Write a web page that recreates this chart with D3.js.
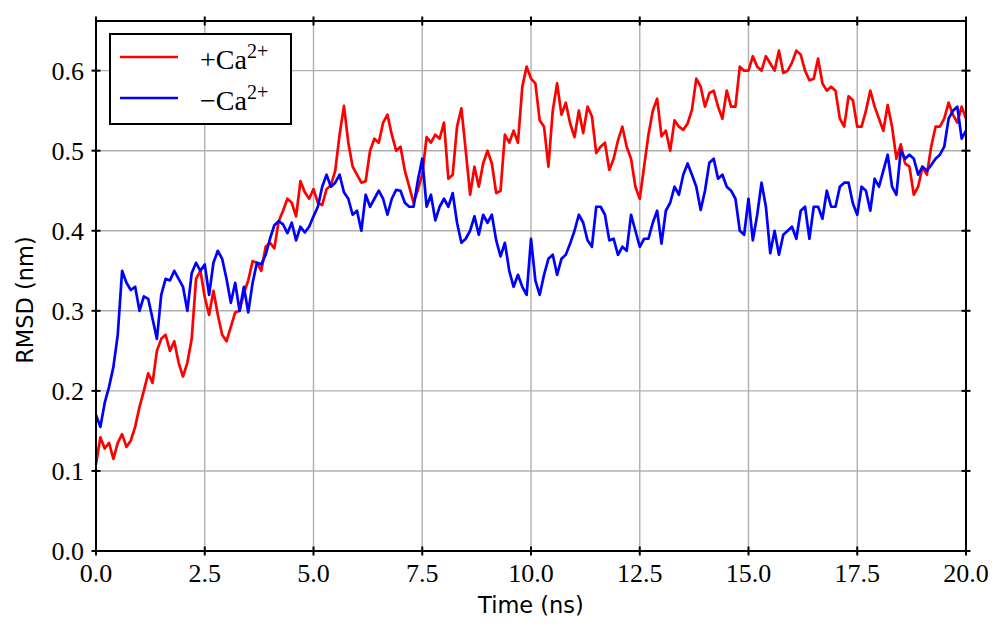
<!DOCTYPE html>
<html>
<head>
<meta charset="utf-8">
<script src="https://cdn.jsdelivr.net/npm/d3@7"></script>
<style>
  body { margin: 0; background: #fff; }
  .grid line { stroke: #b0b0b0; stroke-width: 1.4; }
  .tick-label { font-family: "Liberation Serif", "DejaVu Serif", serif; font-size: 26px; fill: #000; }
  .axis-title { font-family: "DejaVu Sans", sans-serif; font-size: 22.5px; fill: #000; }
  .legend-text { font-family: "Liberation Serif", "DejaVu Serif", serif; font-size: 28px; fill: #000; }
</style>
</head>
<body>
<svg id="chart" width="994" height="624"></svg>
<script>
  const width = 994, height = 624;
  const margin = { top: 21, right: 28, bottom: 73, left: 96 };

  // sampling step of both trajectories (ns)
  const timeStep = 0.1;

  // RMSD (nm) with calcium bound, read every 0.1 ns from 0 to 20 ns
  const rmsdWithCa = [
    0.108, 0.142, 0.128, 0.135, 0.115, 0.135, 0.146, 0.130, 0.138, 0.155,
    0.180, 0.200, 0.222, 0.210, 0.250, 0.265, 0.270, 0.250, 0.262, 0.235,
    0.218, 0.235, 0.265, 0.340, 0.350, 0.317, 0.295, 0.325, 0.295, 0.270,
    0.262, 0.280, 0.298, 0.300, 0.322, 0.338, 0.362, 0.360, 0.350, 0.380,
    0.385, 0.378, 0.412, 0.425, 0.440, 0.435, 0.418, 0.462, 0.448, 0.440,
    0.452, 0.435, 0.432, 0.452, 0.457, 0.475, 0.520, 0.556, 0.510, 0.480,
    0.470, 0.460, 0.462, 0.500, 0.515, 0.510, 0.535, 0.545, 0.520, 0.500,
    0.505, 0.475, 0.455, 0.435, 0.451, 0.470, 0.517, 0.510, 0.520, 0.515,
    0.535, 0.465, 0.470, 0.530, 0.553, 0.500, 0.445, 0.480, 0.455, 0.484,
    0.500, 0.484, 0.447, 0.450, 0.520, 0.510, 0.525, 0.510, 0.580, 0.605,
    0.590, 0.584, 0.538, 0.530, 0.480, 0.550, 0.584, 0.545, 0.560, 0.534,
    0.517, 0.550, 0.522, 0.555, 0.543, 0.497, 0.505, 0.510, 0.476, 0.490,
    0.513, 0.530, 0.505, 0.490, 0.455, 0.440, 0.480, 0.520, 0.550, 0.565,
    0.518, 0.525, 0.500, 0.538, 0.530, 0.526, 0.534, 0.551, 0.590, 0.580,
    0.555, 0.572, 0.575, 0.555, 0.540, 0.575, 0.555, 0.555, 0.605, 0.600,
    0.600, 0.618, 0.605, 0.600, 0.618, 0.609, 0.600, 0.625, 0.597, 0.600,
    0.610, 0.625, 0.620, 0.600, 0.588, 0.590, 0.615, 0.584, 0.575, 0.580,
    0.575, 0.540, 0.530, 0.568, 0.563, 0.530, 0.530, 0.550, 0.575, 0.555,
    0.540, 0.525, 0.557, 0.530, 0.490, 0.508, 0.484, 0.480, 0.445, 0.455,
    0.480, 0.470, 0.505, 0.530, 0.530, 0.540, 0.560, 0.545, 0.535, 0.555,
    0.540
  ];

  // RMSD (nm) without calcium, same sampling
  const rmsdWithoutCa = [
    0.170, 0.155, 0.185, 0.205, 0.230, 0.270, 0.350, 0.335, 0.326, 0.330,
    0.300, 0.318, 0.315, 0.290, 0.265, 0.320, 0.340, 0.338, 0.350, 0.340,
    0.330, 0.300, 0.347, 0.360, 0.350, 0.358, 0.320, 0.360, 0.375, 0.365,
    0.340, 0.310, 0.335, 0.300, 0.330, 0.298, 0.335, 0.360, 0.358, 0.370,
    0.390, 0.407, 0.412, 0.408, 0.397, 0.410, 0.388, 0.405, 0.398, 0.405,
    0.418, 0.430, 0.455, 0.470, 0.455, 0.460, 0.470, 0.448, 0.440, 0.420,
    0.425, 0.400, 0.445, 0.430, 0.440, 0.450, 0.440, 0.420, 0.440, 0.451,
    0.450, 0.435, 0.430, 0.430, 0.463, 0.490, 0.430, 0.445, 0.413, 0.430,
    0.440, 0.430, 0.447, 0.410, 0.385, 0.390, 0.400, 0.418, 0.395, 0.420,
    0.410, 0.420, 0.388, 0.368, 0.385, 0.350, 0.330, 0.345, 0.330, 0.320,
    0.390, 0.338, 0.320, 0.345, 0.365, 0.370, 0.345, 0.365, 0.370, 0.384,
    0.400, 0.420, 0.410, 0.388, 0.380, 0.430, 0.430, 0.420, 0.388, 0.390,
    0.370, 0.380, 0.375, 0.420, 0.400, 0.380, 0.390, 0.390, 0.410, 0.425,
    0.384, 0.425, 0.435, 0.455, 0.445, 0.470, 0.484, 0.470, 0.455, 0.426,
    0.450, 0.485, 0.490, 0.465, 0.470, 0.455, 0.450, 0.440, 0.400, 0.395,
    0.440, 0.388, 0.420, 0.460, 0.430, 0.372, 0.400, 0.370, 0.395, 0.400,
    0.405, 0.390, 0.425, 0.430, 0.390, 0.430, 0.430, 0.415, 0.450, 0.430,
    0.430, 0.455, 0.460, 0.460, 0.434, 0.420, 0.455, 0.450, 0.425, 0.465,
    0.455, 0.475, 0.495, 0.455, 0.445, 0.500, 0.490, 0.495, 0.490, 0.470,
    0.480, 0.475, 0.482, 0.490, 0.495, 0.505, 0.540, 0.550, 0.555, 0.515,
    0.525
  ];

  const xTicks = [0, 2.5, 5, 7.5, 10, 12.5, 15, 17.5, 20];
  const yTicks = [0, 0.1, 0.2, 0.3, 0.4, 0.5, 0.6];
  const legendNames = ["+Ca", "\u2212Ca"];
  const legendSup = "2+";
  const seriesColors = ["#ff0000", "#0000ff"];

  const svg = d3.select("#chart");
  const x = d3.scaleLinear().domain([0, 20]).range([margin.left, width - margin.right]);
  const y = d3.scaleLinear().domain([0, 0.662]).range([height - margin.bottom, margin.top]);

  // grid
  const grid = svg.append("g").attr("class", "grid");
  grid.selectAll(".gx").data(xTicks).join("line")
    .attr("x1", d => x(d)).attr("x2", d => x(d))
    .attr("y1", y.range()[1]).attr("y2", y.range()[0]);
  grid.selectAll(".gy").data(yTicks).join("line")
    .attr("y1", d => y(d)).attr("y2", d => y(d))
    .attr("x1", x.range()[0]).attr("x2", x.range()[1]);

  // lines
  const line = d3.line()
    .x((d, i) => x(i * timeStep))
    .y(d => y(d));

  [rmsdWithCa, rmsdWithoutCa].forEach((series, k) => {
    svg.append("path")
      .datum(series)
      .attr("fill", "none")
      .attr("stroke", seriesColors[k])
      .attr("stroke-width", 2.7)
      .attr("stroke-linejoin", "round")
      .attr("d", line);
  });

  // frame
  svg.append("rect")
    .attr("x", x.range()[0]).attr("y", y.range()[1])
    .attr("width", x.range()[1] - x.range()[0])
    .attr("height", y.range()[0] - y.range()[1])
    .attr("fill", "none").attr("stroke", "#000").attr("stroke-width", 2);

  // in-out ticks on all four sides
  const tickLen = 4.5;
  const ticks = svg.append("g").attr("stroke", "#000").attr("stroke-width", 2);
  [y.range()[0], y.range()[1]].forEach(yy => {
    ticks.append("g").selectAll("line").data(xTicks).join("line")
      .attr("x1", d => x(d)).attr("x2", d => x(d))
      .attr("y1", yy - tickLen).attr("y2", yy + tickLen);
  });
  [x.range()[0], x.range()[1]].forEach(xx => {
    ticks.append("g").selectAll("line").data(yTicks).join("line")
      .attr("y1", d => y(d)).attr("y2", d => y(d))
      .attr("x1", xx - tickLen).attr("x2", xx + tickLen);
  });

  // tick labels
  svg.append("g").selectAll("text").data(xTicks).join("text")
    .attr("class", "tick-label")
    .attr("x", d => x(d))
    .attr("y", y.range()[0] + 31)
    .attr("text-anchor", "middle")
    .text(d3.format(".1f"));
  svg.append("g").selectAll("text").data(yTicks).join("text")
    .attr("class", "tick-label")
    .attr("x", x.range()[0] - 12)
    .attr("y", d => y(d) + 9)
    .attr("text-anchor", "end")
    .text(d3.format(".1f"));

  // axis titles
  svg.append("text").attr("class", "axis-title")
    .attr("x", (x.range()[0] + x.range()[1]) / 2)
    .attr("y", 613)
    .attr("text-anchor", "middle")
    .text("Time (ns)");
  svg.append("text").attr("class", "axis-title")
    .attr("transform", `translate(33,${(y.range()[0] + y.range()[1]) / 2 + 14}) rotate(-90)`)
    .attr("text-anchor", "middle")
    .text("RMSD (nm)");

  // legend
  const legend = svg.append("g").attr("transform", "translate(110,34)");
  legend.append("rect")
    .attr("width", 181).attr("height", 90)
    .attr("fill", "#fff").attr("stroke", "#000").attr("stroke-width", 2);
  legendNames.forEach((name, i) => {
    const row = legend.append("g").attr("transform", `translate(0,${23 + i * 41})`);
    row.append("line")
      .attr("x1", 10).attr("x2", 68)
      .attr("stroke", seriesColors[i]).attr("stroke-width", 2.7);
    const t = row.append("text").attr("class", "legend-text")
      .attr("x", 90).attr("y", 12);
    t.append("tspan").text(name);
    t.append("tspan").attr("dy", -11).attr("font-size", 20).text(legendSup);
  });
</script>
</body>
</html>
